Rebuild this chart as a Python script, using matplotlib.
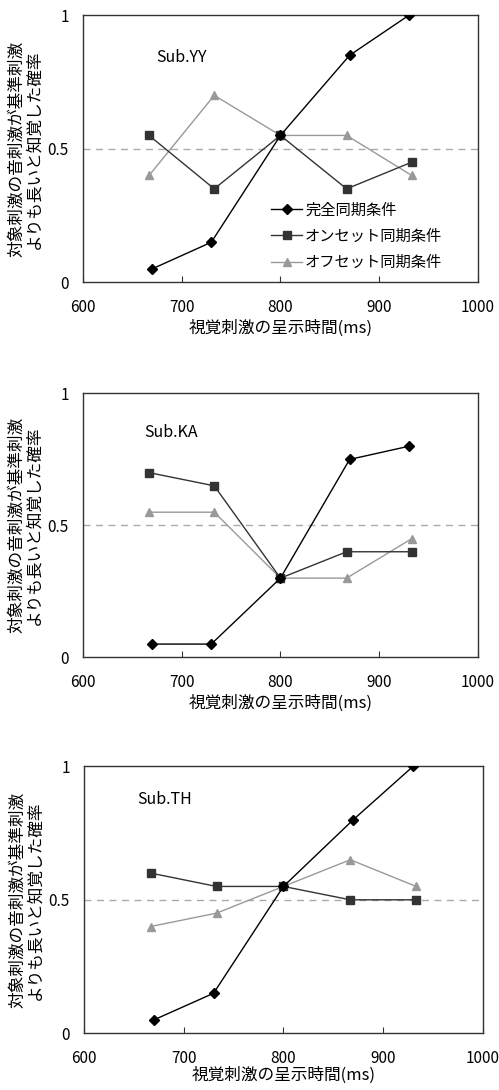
import numpy as np
import matplotlib
matplotlib.use("Agg")
import matplotlib.pyplot as plt

plt.rcParams['font.family'] = ['Noto Sans CJK JP', 'DejaVu Sans']

# stimulus durations (ms); the diamond series is plotted slightly offset
x_full = [670, 730, 800, 870, 930]
x_other = [667, 733, 800, 867, 933]

subjects = ["Sub.YY", "Sub.KA", "Sub.TH"]
full_sync = [
    [0.05, 0.15, 0.55, 0.85, 1.0],
    [0.05, 0.05, 0.30, 0.75, 0.80],
    [0.05, 0.15, 0.55, 0.80, 1.0],
]
onset_sync = [
    [0.55, 0.35, 0.55, 0.35, 0.45],
    [0.70, 0.65, 0.30, 0.40, 0.40],
    [0.60, 0.55, 0.55, 0.50, 0.50],
]
offset_sync = [
    [0.40, 0.70, 0.55, 0.55, 0.40],
    [0.55, 0.55, 0.30, 0.30, 0.45],
    [0.40, 0.45, 0.55, 0.65, 0.55],
]
labels = ["完全同期条件", "オンセット同期条件", "オフセット同期条件"]

ylab = "対象刺激の音刺激が基準刺激\nよりも長いと知覚した確率"
xlab = "視覚刺激の呈示時間(ms)"

fig = plt.figure(figsize=(4.99, 10.90), dpi=100)
boxes = [
    [0.166, 0.741, 0.792, 0.245],
    [0.166, 0.397, 0.792, 0.242],
    [0.168, 0.052, 0.800, 0.245],
]
text_pos = [(0.187, 0.843), (0.155, 0.852), (0.135, 0.874)]
xlabel_pad = [3, 3, 0]

for i in range(3):
    ax = fig.add_axes(boxes[i])
    ax.axhline(0.5, color="#aaaaaa", lw=1, ls=(0, (5, 4)), zorder=1)
    ax.plot(x_full, full_sync[i], color="black", marker="D", ms=5, lw=1,
            label=labels[0], zorder=4)
    ax.plot(x_other, onset_sync[i], color="#333333", marker="s", ms=6, lw=1,
            label=labels[1], zorder=3)
    ax.plot(x_other, offset_sync[i], color="#999999", marker="^", ms=6, lw=1,
            label=labels[2], zorder=2)
    ax.set_xlim(600, 1000)
    ax.set_ylim(0, 1)
    ax.set_xticks([600, 700, 800, 900, 1000])
    ax.set_yticks([0, 0.5, 1])
    ax.set_yticklabels(["0", "0.5", "1"])
    ax.tick_params(axis="x", direction="in", length=4, labelsize=11, pad=12,
                   color="#333333")
    ax.tick_params(axis="y", length=0, labelsize=11, pad=10)
    for s in ax.spines.values():
        s.set_color("#333333")
        s.set_linewidth(1)
    ax.set_xlabel(xlab, fontsize=12, labelpad=xlabel_pad[i])
    ax.set_ylabel(ylab, fontsize=12, labelpad=4, linespacing=1.0)
    ax.text(text_pos[i][0], text_pos[i][1], subjects[i], transform=ax.transAxes,
            fontsize=11.5, va="center", ha="left")
    if i == 0:
        ax.legend(loc="lower right", bbox_to_anchor=(0.925, 0.02), frameon=False,
                  fontsize=11, handlelength=2.0, handletextpad=0.2,
                  labelspacing=0.6, borderaxespad=0)

fig.savefig("out.png", dpi=100)
